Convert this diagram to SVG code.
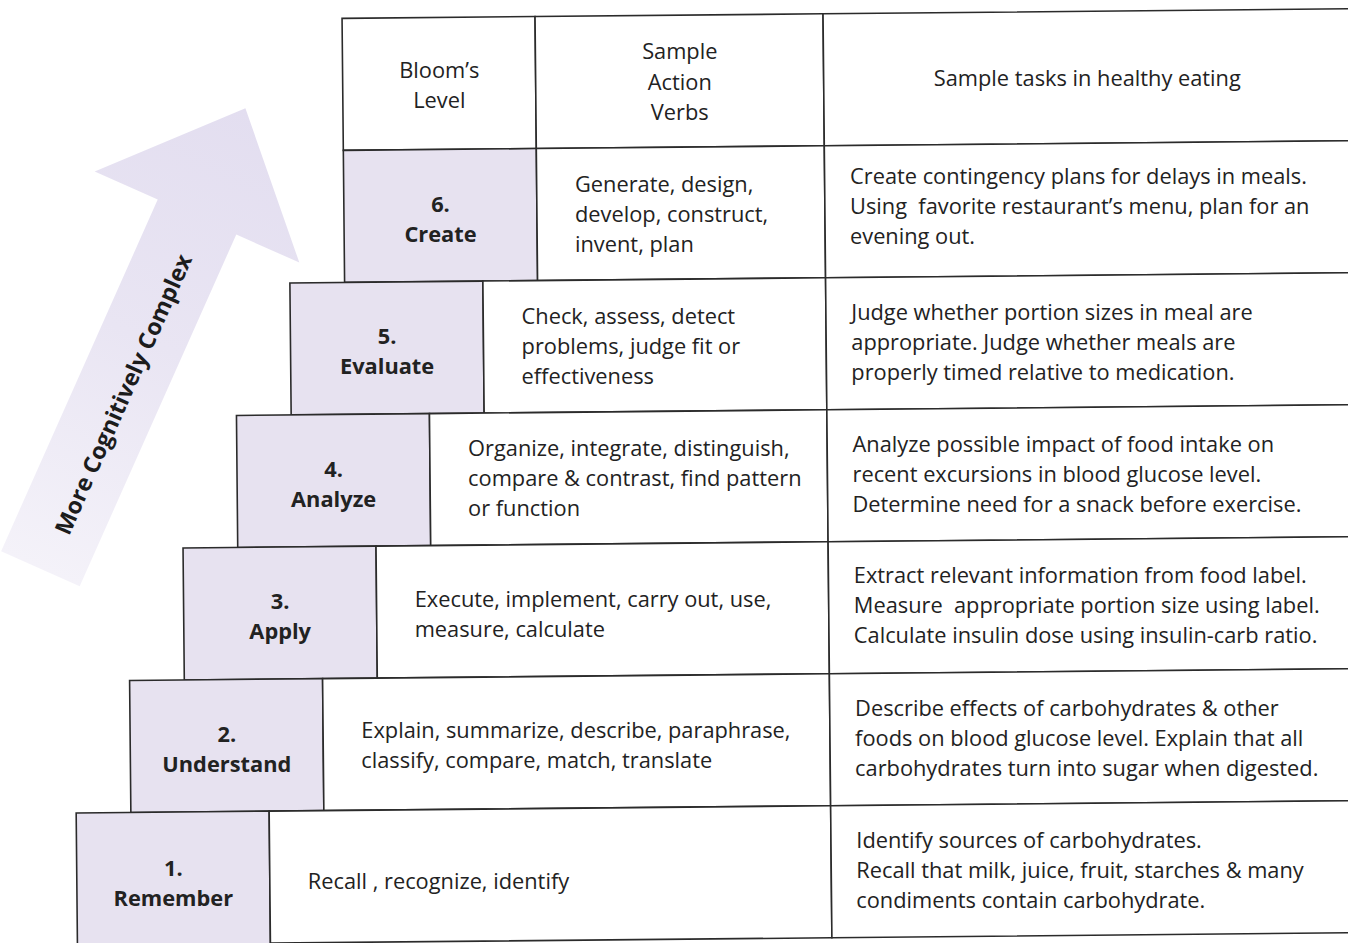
<svg xmlns="http://www.w3.org/2000/svg" width="1348" height="943" viewBox="0 0 1348 943">
<defs>
<linearGradient id="arrowGrad" gradientUnits="userSpaceOnUse" x1="-385" y1="0" x2="119" y2="0">
<stop offset="0" stop-color="#f4f2f9"/>
<stop offset="0.5" stop-color="#e9e5f3"/>
<stop offset="1" stop-color="#e3def0"/>
</linearGradient>
<style>
.cell{fill:#ffffff;stroke:#2b2b2b;stroke-width:1.6}
.lvl{fill:#e7e2f0;stroke:#2b2b2b;stroke-width:1.6}
.t{font-family:"Open Sans","Liberation Sans",sans-serif;font-size:21.8px;fill:#222}
.c{text-anchor:middle}
.b{font-family:"Open Sans","Liberation Sans",sans-serif;font-size:21.8px;font-weight:700;fill:#222;text-anchor:middle}
.ar{font-family:"Open Sans","Liberation Sans",sans-serif;font-size:23px;font-weight:700;fill:#1c1c1c;text-anchor:middle}
</style>
</defs>
<rect width="1348" height="943" fill="#ffffff"/>
<g id="arrow" transform="translate(197 217) rotate(-66)">
<path d="M -385 -43 L 0 -43 L 0 -112 L 119 0 L 0 112 L 0 43 L -385 43 Z" fill="url(#arrowGrad)"/>
<text class="ar" x="-192" y="13" textLength="304" lengthAdjust="spacingAndGlyphs">More Cognitively Complex</text>
</g>
<g id="table-grid" transform="rotate(-0.55 700 480)">
<g id="header-cells">
<rect class="cell" x="346.5" y="15" width="193" height="132"/>
<rect class="cell" x="539.5" y="15" width="288" height="132"/>
<rect class="cell" x="827.5" y="15" width="540" height="132"/>
</g>
<g id="row6-cells">
<rect class="lvl" x="346.5" y="147" width="193" height="132"/>
<rect class="cell" x="539.5" y="147" width="288" height="132"/>
<rect class="cell" x="827.5" y="147" width="540" height="132"/>
</g>
<g id="row5-cells">
<rect class="lvl" x="291.8" y="279" width="193" height="132"/>
<rect class="cell" x="484.8" y="279" width="342.7" height="132"/>
<rect class="cell" x="827.5" y="279" width="540" height="132"/>
</g>
<g id="row4-cells">
<rect class="lvl" x="237.1" y="411" width="193" height="132"/>
<rect class="cell" x="430.1" y="411" width="397.4" height="132"/>
<rect class="cell" x="827.5" y="411" width="540" height="132"/>
</g>
<g id="row3-cells">
<rect class="lvl" x="182.4" y="543" width="193" height="132"/>
<rect class="cell" x="375.4" y="543" width="452.1" height="132"/>
<rect class="cell" x="827.5" y="543" width="540" height="132"/>
</g>
<g id="row2-cells">
<rect class="lvl" x="127.7" y="675" width="193" height="132"/>
<rect class="cell" x="320.7" y="675" width="506.8" height="132"/>
<rect class="cell" x="827.5" y="675" width="540" height="132"/>
</g>
<g id="row1-cells">
<rect class="lvl" x="73" y="807" width="193" height="150"/>
<rect class="cell" x="266" y="807" width="561.5" height="132"/>
<rect class="cell" x="827.5" y="807" width="540" height="132"/>
</g>
</g>
<g id="header">
<text class="t c" x="439.3" y="78">Bloom’s</text>
<text class="t c" x="439.3" y="108">Level</text>
<text class="t c" x="679.8" y="59.2">Sample</text>
<text class="t c" x="679.8" y="89.7">Action</text>
<text class="t c" x="679.8" y="120.2">Verbs</text>
<text class="t c" x="1087.3" y="86.3">Sample tasks in healthy eating</text>
</g>
<g id="row6">
<text class="b" x="440.5" y="211.5">6.</text>
<text class="b" x="440.5" y="241.5">Create</text>
<text class="t" x="575" y="192.2">Generate, design,</text>
<text class="t" x="575" y="222.2">develop, construct,</text>
<text class="t" x="575" y="252.2">invent, plan</text>
<text class="t" x="850" y="184.4">Create contingency plans for delays in meals.</text>
<text class="t" x="850" y="214.4" xml:space="preserve">Using  favorite restaurant’s menu, plan for an</text>
<text class="t" x="850" y="244.4">evening out.</text>
</g>
<g id="row5">
<text class="b" x="387.1" y="344">5.</text>
<text class="b" x="387.1" y="374">Evaluate</text>
<text class="t" x="521.6" y="324.1">Check, assess, detect</text>
<text class="t" x="521.6" y="354.1">problems, judge fit or</text>
<text class="t" x="521.6" y="384.1">effectiveness</text>
<text class="t" x="851.3" y="319.5">Judge whether portion sizes in meal are</text>
<text class="t" x="851.3" y="349.5">appropriate. Judge whether meals are</text>
<text class="t" x="851.3" y="379.5">properly timed relative to medication.</text>
</g>
<g id="row4">
<text class="b" x="333.6" y="476.5">4.</text>
<text class="b" x="333.6" y="506.5">Analyze</text>
<text class="t" x="468.1" y="456.1">Organize, integrate, distinguish,</text>
<text class="t" x="468.1" y="486.1">compare &amp; contrast, find pattern</text>
<text class="t" x="468.1" y="516.1">or function</text>
<text class="t" x="852.5" y="451.9">Analyze possible impact of food intake on</text>
<text class="t" x="852.5" y="481.9">recent excursions in blood glucose level.</text>
<text class="t" x="852.5" y="511.9">Determine need for a snack before exercise.</text>
</g>
<g id="row3">
<text class="b" x="280.2" y="609">3.</text>
<text class="b" x="280.2" y="639">Apply</text>
<text class="t" x="414.7" y="606.5">Execute, implement, carry out, use,</text>
<text class="t" x="414.7" y="636.5">measure, calculate</text>
<text class="t" x="853.8" y="582.8">Extract relevant information from food label.</text>
<text class="t" x="853.8" y="612.8" xml:space="preserve">Measure  appropriate portion size using label.</text>
<text class="t" x="853.8" y="642.8">Calculate insulin dose using insulin-carb ratio.</text>
</g>
<g id="row2">
<text class="b" x="226.8" y="742">2.</text>
<text class="b" x="226.8" y="772">Understand</text>
<text class="t" x="361.3" y="737.7">Explain, summarize, describe, paraphrase,</text>
<text class="t" x="361.3" y="767.7">classify, compare, match, translate</text>
<text class="t" x="855.1" y="715.9">Describe effects of carbohydrates &amp; other</text>
<text class="t" x="855.1" y="745.9">foods on blood glucose level. Explain that all</text>
<text class="t" x="855.1" y="775.9">carbohydrates turn into sugar when digested.</text>
</g>
<g id="row1">
<text class="b" x="173.3" y="875.6">1.</text>
<text class="b" x="173.3" y="905.6">Remember</text>
<text class="t" x="307.8" y="888.5" xml:space="preserve">Recall , recognize, identify</text>
<text class="t" x="856.3" y="848">Identify sources of carbohydrates.</text>
<text class="t" x="856.3" y="878">Recall that milk, juice, fruit, starches &amp; many</text>
<text class="t" x="856.3" y="908">condiments contain carbohydrate.</text>
</g>
</svg>
